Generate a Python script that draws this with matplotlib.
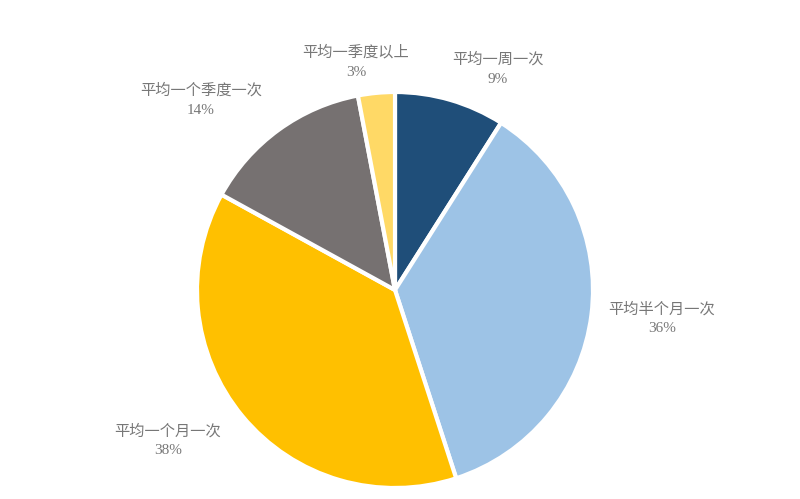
import matplotlib
matplotlib.use("Agg")
import matplotlib.pyplot as plt

# Visit frequency shares (percent)
categories = ["平均一周一次", "平均半个月一次", "平均一个月一次", "平均一个季度一次", "平均一季度以上"]
shares = [9, 36, 38, 14, 3]
colors = ["#1F4E79", "#9DC3E6", "#FFC000", "#767171", "#FFD966"]

# label anchor positions in canvas pixels (x, y from top)
label_pos = [(498, 69), (662, 319), (168, 441), (201, 100), (356, 62)]

W, H = 800, 499
fig = plt.figure(figsize=(W / 100, H / 100), dpi=100)
ax = fig.add_axes([0, 0, 1, 1])

# y axis runs downward, so start at -90 and go counter-clockwise in data
# space to get a clockwise pie starting at twelve o'clock on screen
ax.pie(
    shares,
    colors=colors,
    startangle=-90,
    counterclock=True,
    center=(395, 290),
    radius=198,
    wedgeprops=dict(edgecolor="white", linewidth=3),
    frame=True,
)
ax.set_xlim(0, W)
ax.set_ylim(H, 0)
ax.set_aspect("equal")
ax.axis("off")

for name, val, (x, y) in zip(categories, shares, label_pos):
    ax.text(x, y - 10, name, ha="center", va="center", fontsize=11,
            color="#777777", family=["Noto Sans CJK SC", "DejaVu Sans"],
            fontweight="light")
    ax.text(x, y + 10, f"{val}%", ha="center", va="center", fontsize=11,
            color="#777777", family=["Liberation Serif", "DejaVu Serif"])

fig.savefig("out.png", dpi=100, facecolor="white")
